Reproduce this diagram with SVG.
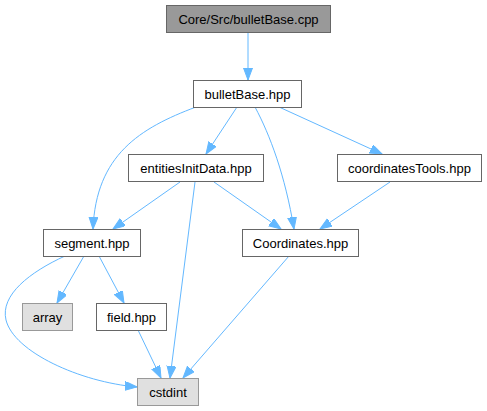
<svg xmlns="http://www.w3.org/2000/svg" width="487" height="411" viewBox="0 0 487 411">
<style>
.n rect{fill:#ffffff;stroke:#666666;stroke-width:1}
.n.top rect{fill:#999999;stroke:#666666}
.n.ext rect{fill:#e0e0e0;stroke:#999999}
.n text{font-family:"Liberation Sans",Arial,sans-serif;font-size:13px;fill:#000000;text-anchor:middle}
#edges path{fill:none;stroke:#63b8ff;stroke-width:1;marker-end:url(#arr)}
</style>
<defs>
<marker id="arr" markerUnits="userSpaceOnUse" markerWidth="14" markerHeight="11" refX="12" refY="4.5" orient="auto">
<path d="M0,0 L12,4.5 L0,9 z" fill="#63b8ff" stroke="#63b8ff" stroke-width="1"/>
</marker>
</defs>
<rect width="487" height="411" fill="#ffffff"/>
<g id="edges">
<path d="M248,32 L248,80"/>
<path d="M196,107 C140,128 96,155 93,229"/>
<path d="M237,107 L206,154"/>
<path d="M255,107 C270,135 285,175 294,229"/>
<path d="M279,107 L382,154"/>
<path d="M180,182 L113,229"/>
<path d="M214,182 L281,229"/>
<path d="M195,182 L170,378"/>
<path d="M390,182 L320,229"/>
<path d="M289,256 L183,378"/>
<path d="M65,256 C30,272 0,295 6,320 C14,352 80,382 137,387"/>
<path d="M84,256 L57,303"/>
<path d="M99,256 L124,303"/>
<path d="M138,330 L161,378"/>
</g>
<g id="n_cpp" class="n top"><rect x="166.5" y="5.5" width="164" height="27"/><text x="248.5" y="23.5">Core/Src/bulletBase.cpp</text></g>
<g id="n_bulletBase" class="n"><rect x="193.5" y="80.5" width="108" height="27"/><text x="247.5" y="98.5">bulletBase.hpp</text></g>
<g id="n_entities" class="n"><rect x="128.5" y="154.5" width="135" height="27"/><text x="196" y="172.5">entitiesInitData.hpp</text></g>
<g id="n_coordTools" class="n"><rect x="337.5" y="154.5" width="144" height="27"/><text x="409.5" y="172.5">coordinatesTools.hpp</text></g>
<g id="n_segment" class="n"><rect x="43.5" y="229.5" width="97" height="27"/><text x="92" y="247.5">segment.hpp</text></g>
<g id="n_coordinates" class="n"><rect x="242.5" y="229.5" width="116" height="27"/><text x="300.5" y="247.5">Coordinates.hpp</text></g>
<g id="n_array" class="n ext"><rect x="22.5" y="303.5" width="50" height="27"/><text x="47.5" y="321.5">array</text></g>
<g id="n_field" class="n"><rect x="96.5" y="303.5" width="70" height="27"/><text x="131.5" y="321.5">field.hpp</text></g>
<g id="n_cstdint" class="n ext"><rect x="137.5" y="378.5" width="61" height="27"/><text x="168" y="396.5">cstdint</text></g>
</svg>
